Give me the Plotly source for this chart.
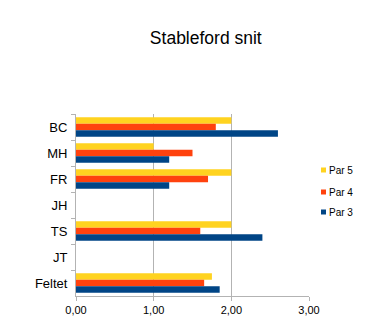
import plotly.graph_objects as go

# Stableford averages per player, split by hole par
players = ["BC", "MH", "FR", "JH", "TS", "JT", "Feltet"]
par3 = [2.6, 1.2, 1.2, None, 2.4, None, 1.85]
par4 = [1.8, 1.5, 1.7, None, 1.6, None, 1.65]
par5 = [2.0, 1.0, 2.0, None, 2.0, None, 1.75]
x_ticks = [0, 1, 2, 3]

# Listed top-to-bottom as they appear within each player's group
series = [
    ("Par 5", par5, "#FFD320"),
    ("Par 4", par4, "#FF420E"),
    ("Par 3", par3, "#004586"),
]

W, H = 387, 336
L, R, T, B = 76, 78, 114, 40

fig = go.Figure()
for name, vals, color in series:
    fig.add_trace(go.Bar(
        y=players, x=vals, name=name, orientation="h",
        marker=dict(color=color, line=dict(width=0)),
        showlegend=False,
    ))

font_family = "Liberation Sans, Arial, sans-serif"

# Compact legend drawn as small squares with labels, Par 5 on top
legend_y = [170, 192, 212]
shapes = []
annotations = []
pw, ph = W - L - R, H - T - B
for (name, _, color), yc in zip(series, legend_y):
    x0 = 321
    shapes.append(dict(
        type="rect", xref="paper", yref="paper",
        x0=(x0 - L) / pw, x1=(x0 + 5 - L) / pw,
        y0=(H - B - (yc + 2.5)) / ph, y1=(H - B - (yc - 2.5)) / ph,
        fillcolor=color, line=dict(width=0),
    ))
    annotations.append(dict(
        text=name, xref="paper", yref="paper",
        x=(327 - L) / pw, y=(H - B - yc) / ph,
        xanchor="left", yanchor="middle", showarrow=False,
        font=dict(size=10, color="#000000", family=font_family),
    ))

fig.update_layout(
    width=W, height=H,
    margin=dict(l=L, r=R, t=T, b=B),
    paper_bgcolor="white", plot_bgcolor="white",
    barmode="group", bargap=0.25, bargroupgap=0,
    separators=", ",
    font=dict(family=font_family, color="#000000"),
    title=dict(
        text="Stableford snit", x=205.8 / W, xanchor="center", xref="container",
        y=1 - 38 / H, yanchor="middle",
        font=dict(size=17.5, color="#000000", family=font_family),
    ),
    shapes=shapes,
    annotations=annotations,
    xaxis=dict(
        range=[0, 3], tickvals=x_ticks, tickformat=".2f",
        showgrid=True, gridcolor="#b3b3b3", gridwidth=1,
        showline=True, linecolor="#b3b3b3", linewidth=1,
        ticks="outside", ticklen=4, tickcolor="#b3b3b3",
        zeroline=False, mirror=False,
        tickfont=dict(size=11, color="#000000"),
        fixedrange=True,
    ),
    yaxis=dict(
        categoryorder="array", categoryarray=players,
        autorange="reversed",
        showline=True, linecolor="#b3b3b3", linewidth=1,
        ticks="outside", ticklen=4, tickcolor="#b3b3b3",
        tickson="boundaries", showgrid=False,
        tickfont=dict(size=13, color="#000000"),
        ticklabelstandoff=5,
        fixedrange=True,
    ),
)

fig.write_html("out.html")
